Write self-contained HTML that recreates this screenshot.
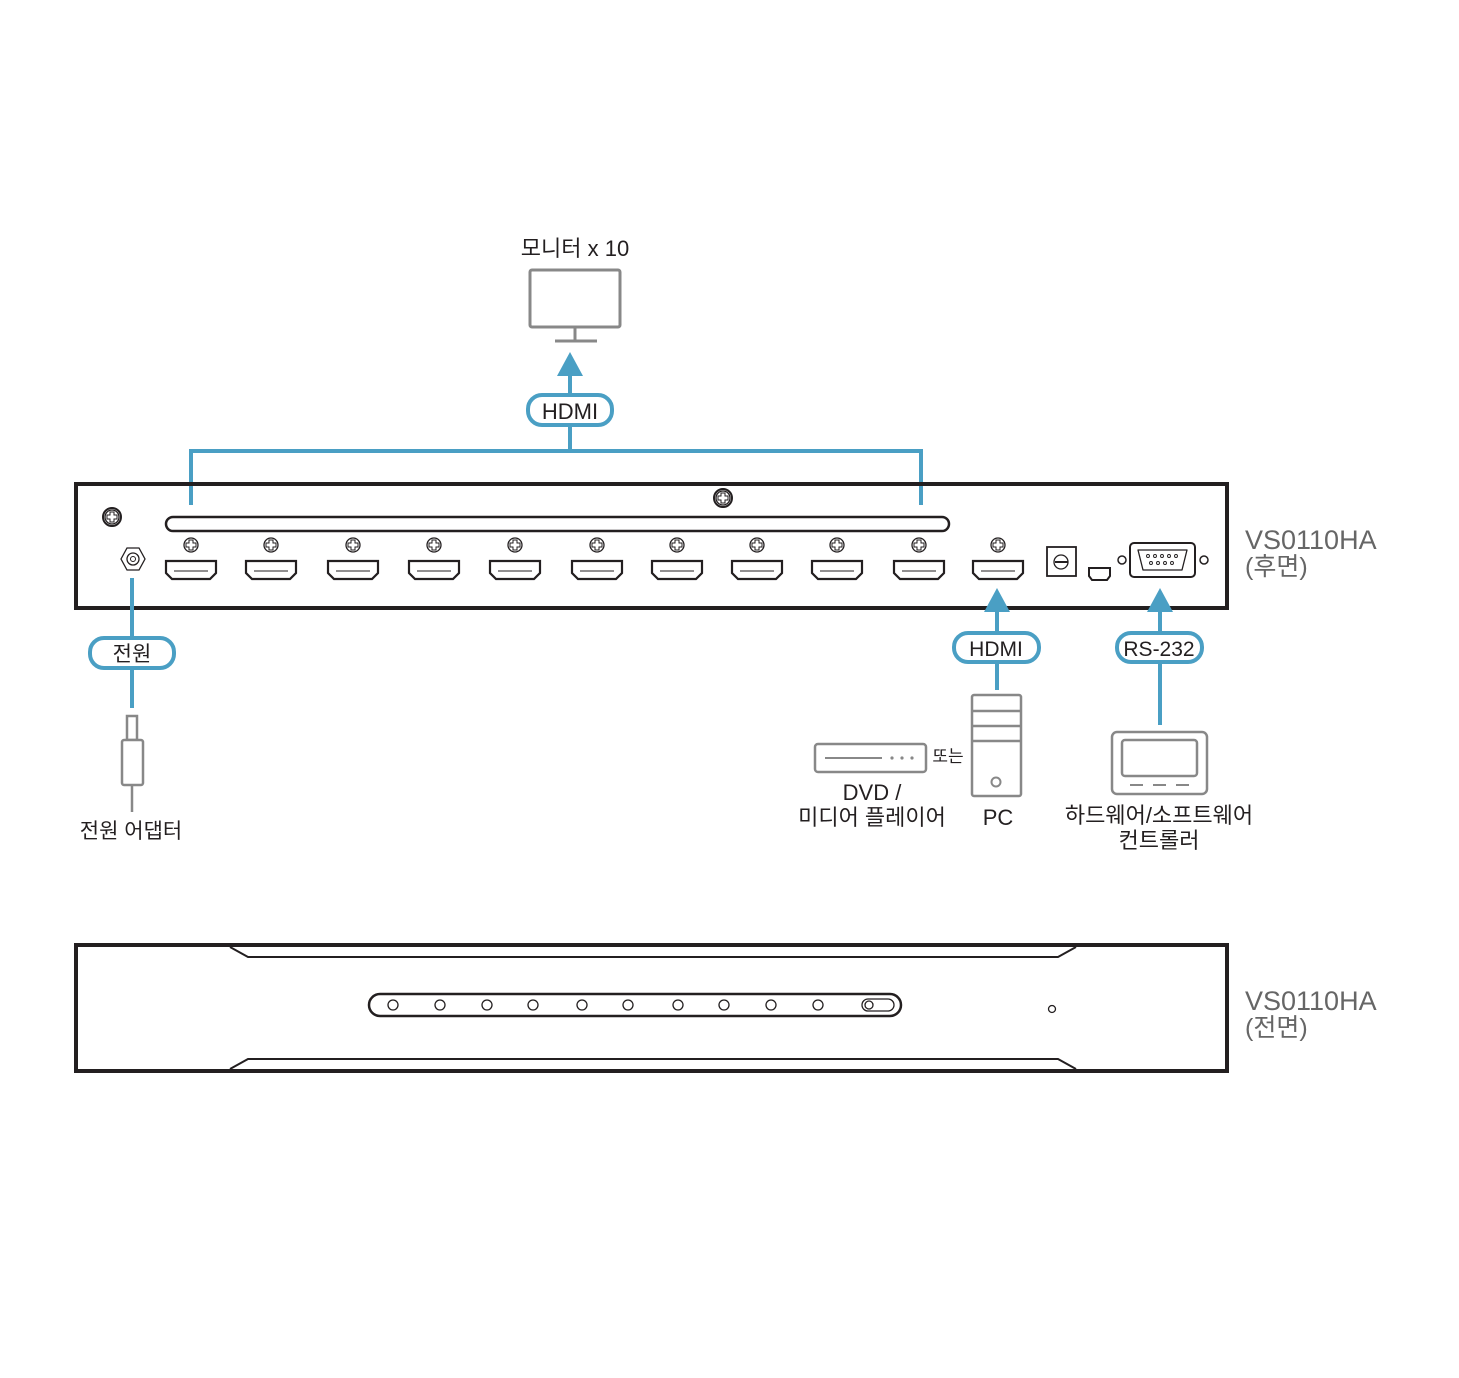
<!DOCTYPE html>
<html><head><meta charset="utf-8"><style>
body{margin:0;background:#fff}
svg{display:block}
text{font-family:"Liberation Sans","Noto Sans CJK KR",sans-serif;fill:#231f20}
</style></head><body>
<svg width="1459" height="1378" viewBox="0 0 1459 1378" xmlns="http://www.w3.org/2000/svg">
<defs>
<g id="port"><path d="M-25,-8 H25 V4 L19,10 H-19 L-25,4 Z" fill="#fff" stroke="#231f20" stroke-width="2.2"/><line x1="-17" y1="2" x2="17" y2="2" stroke="#231f20" stroke-width="1"/></g>
<g id="scr"><circle r="7" fill="#fff" stroke="#231f20" stroke-width="1.3"/><path d="M-2,-5 H2 V-2 H5 V2 H2 V5 H-2 V2 H-5 V-2 H-2 Z" fill="none" stroke="#231f20" stroke-width="1"/></g>
</defs>
<!-- monitor -->
<text x="575" y="256" font-size="22" text-anchor="middle">모니터 x 10</text>
<rect x="530" y="270" width="90" height="57" rx="2" fill="#fff" stroke="#888" stroke-width="3"/>
<line x1="575" y1="327" x2="575" y2="341" stroke="#888" stroke-width="3"/>
<line x1="555" y1="341" x2="597" y2="341" stroke="#888" stroke-width="3"/>
<!-- top connector -->
<g stroke="#4a9fc4" stroke-width="4" fill="none">
<polyline points="191,505 191,451 921,451 921,505"/>
<line x1="570" y1="451" x2="570" y2="372"/>
</g>
<polygon points="570,352 557,376 583,376" fill="#4a9fc4"/>
<rect x="528" y="395" width="84" height="30" rx="14" fill="#fff" stroke="#4a9fc4" stroke-width="4"/>
<text x="570" y="419" font-size="22" text-anchor="middle">HDMI</text>
<!-- rear panel -->
<rect x="76" y="484" width="1151" height="124" fill="none" stroke="#231f20" stroke-width="4"/>
<g stroke="#4a9fc4" stroke-width="4"><line x1="191" y1="486" x2="191" y2="505"/><line x1="921" y1="486" x2="921" y2="505"/></g>
<rect x="166" y="517" width="783" height="14" rx="7" fill="#fff" stroke="#231f20" stroke-width="2.5"/>
<circle cx="723" cy="498" r="9" fill="#fff" stroke="#231f20" stroke-width="2"/><use href="#scr" x="723" y="498"/>
<circle cx="112" cy="517" r="9" fill="#fff" stroke="#231f20" stroke-width="2"/><use href="#scr" x="112" y="517"/>
<polygon points="121,559 127,548 139,548 145,559 139,570 127,570" fill="#fff" stroke="#231f20" stroke-width="1.3"/>
<circle cx="133" cy="559" r="6" fill="none" stroke="#231f20" stroke-width="1.3"/><circle cx="133" cy="559" r="2.5" fill="none" stroke="#231f20" stroke-width="1"/>
<g>
<use href="#port" x="191" y="569"/><use href="#scr" x="191" y="545"/>
<use href="#port" x="271" y="569"/><use href="#scr" x="271" y="545"/>
<use href="#port" x="353" y="569"/><use href="#scr" x="353" y="545"/>
<use href="#port" x="434" y="569"/><use href="#scr" x="434" y="545"/>
<use href="#port" x="515" y="569"/><use href="#scr" x="515" y="545"/>
<use href="#port" x="597" y="569"/><use href="#scr" x="597" y="545"/>
<use href="#port" x="677" y="569"/><use href="#scr" x="677" y="545"/>
<use href="#port" x="757" y="569"/><use href="#scr" x="757" y="545"/>
<use href="#port" x="837" y="569"/><use href="#scr" x="837" y="545"/>
<use href="#port" x="919" y="569"/><use href="#scr" x="919" y="545"/>
<use href="#port" x="998" y="569"/><use href="#scr" x="998" y="545"/>
</g>
<rect x="1047" y="547" width="29" height="29" fill="#fff" stroke="#231f20" stroke-width="1.8"/>
<circle cx="1061" cy="562" r="7" fill="none" stroke="#231f20" stroke-width="1.3"/>
<line x1="1055" y1="562" x2="1068" y2="562" stroke="#231f20" stroke-width="2"/>
<path d="M1089,568 H1110 V576 L1107,580 H1092 L1089,576 Z" fill="#fff" stroke="#231f20" stroke-width="2"/>
<circle cx="1122" cy="560" r="4" fill="#fff" stroke="#231f20" stroke-width="1.5"/>
<circle cx="1204" cy="560" r="4" fill="#fff" stroke="#231f20" stroke-width="1.5"/>
<rect x="1130" y="543" width="65" height="34" rx="4" fill="#fff" stroke="#231f20" stroke-width="2"/>
<path d="M1138,550 H1187 L1182,570 H1143 Z" fill="none" stroke="#231f20" stroke-width="1.3" stroke-linejoin="round"/>
<g fill="none" stroke="#231f20" stroke-width="0.9">
<circle cx="1148" cy="556" r="1.5"/><circle cx="1155" cy="556" r="1.5"/><circle cx="1162" cy="556" r="1.5"/><circle cx="1169" cy="556" r="1.5"/><circle cx="1176" cy="556" r="1.5"/>
<circle cx="1151" cy="563" r="1.5"/><circle cx="1158" cy="563" r="1.5"/><circle cx="1165" cy="563" r="1.5"/><circle cx="1172" cy="563" r="1.5"/>
</g>
<text x="1245" y="549" font-size="27" fill="#666" style="fill:#666">VS0110HA</text>
<text x="1245" y="575" font-size="25" style="fill:#666">(후면)</text>
<!-- power -->
<line x1="132" y1="578" x2="132" y2="708" stroke="#4a9fc4" stroke-width="4"/>
<rect x="90" y="638" width="84" height="30" rx="14" fill="#fff" stroke="#4a9fc4" stroke-width="4"/>
<text x="132" y="661" font-size="21" text-anchor="middle">전원</text>
<rect x="127" y="716" width="10" height="24" fill="#fff" stroke="#888" stroke-width="2.5"/>
<rect x="122" y="740" width="21" height="45" rx="2" fill="#fff" stroke="#888" stroke-width="2.5"/>
<line x1="132" y1="785" x2="132" y2="812" stroke="#888" stroke-width="2.5"/>
<text x="131" y="838" font-size="21" text-anchor="middle">전원 어댑터</text>
<!-- PC -->
<line x1="997" y1="610" x2="997" y2="690" stroke="#4a9fc4" stroke-width="4"/>
<polygon points="997,588 984,612 1010,612" fill="#4a9fc4"/>
<rect x="954" y="633" width="85" height="29" rx="14" fill="#fff" stroke="#4a9fc4" stroke-width="4"/>
<text x="996" y="656" font-size="21" text-anchor="middle">HDMI</text>
<rect x="972" y="695" width="49" height="101" rx="2" fill="#fff" stroke="#888" stroke-width="2.5"/>
<g stroke="#888" stroke-width="2.5"><line x1="972" y1="711" x2="1021" y2="711"/><line x1="972" y1="726" x2="1021" y2="726"/><line x1="972" y1="741" x2="1021" y2="741"/></g>
<circle cx="996" cy="782" r="4.5" fill="none" stroke="#888" stroke-width="2"/>
<text x="998" y="825" font-size="22" text-anchor="middle">PC</text>
<rect x="815" y="744" width="111" height="28" rx="3" fill="#fff" stroke="#888" stroke-width="2.5"/>
<line x1="825" y1="758" x2="882" y2="758" stroke="#888" stroke-width="2"/>
<g fill="#888"><circle cx="892" cy="758" r="1.6"/><circle cx="902" cy="758" r="1.6"/><circle cx="912" cy="758" r="1.6"/></g>
<text x="948" y="762" font-size="17" text-anchor="middle">또는</text>
<text x="872" y="800" font-size="22" text-anchor="middle">DVD /</text>
<text x="872" y="825" font-size="22" text-anchor="middle">미디어 플레이어</text>
<!-- RS232 -->
<line x1="1160" y1="610" x2="1160" y2="725" stroke="#4a9fc4" stroke-width="4"/>
<polygon points="1160,588 1147,612 1173,612" fill="#4a9fc4"/>
<rect x="1117" y="633" width="85" height="29" rx="14" fill="#fff" stroke="#4a9fc4" stroke-width="4"/>
<text x="1159" y="656" font-size="21" text-anchor="middle">RS-232</text>
<rect x="1112" y="732" width="95" height="62" rx="5" fill="#fff" stroke="#888" stroke-width="2.5"/>
<rect x="1122" y="740" width="75" height="36" rx="3" fill="none" stroke="#888" stroke-width="2.5"/>
<g stroke="#888" stroke-width="2"><line x1="1130" y1="785" x2="1143" y2="785"/><line x1="1153" y1="785" x2="1166" y2="785"/><line x1="1176" y1="785" x2="1189" y2="785"/></g>
<text x="1159" y="823" font-size="22" text-anchor="middle">하드웨어/소프트웨어</text>
<text x="1159" y="848" font-size="22" text-anchor="middle">컨트롤러</text>
<!-- front panel -->
<rect x="76" y="945" width="1151" height="126" fill="none" stroke="#231f20" stroke-width="4"/>
<polyline points="230,947 248,957 1058,957 1076,947" fill="none" stroke="#231f20" stroke-width="2"/>
<polyline points="230,1069 248,1059 1058,1059 1076,1069" fill="none" stroke="#231f20" stroke-width="2"/>
<rect x="369" y="994" width="532" height="22" rx="11" fill="#fff" stroke="#231f20" stroke-width="2.5"/>
<g fill="none" stroke="#231f20" stroke-width="1.3">
<circle cx="393" cy="1005" r="5"/><circle cx="440" cy="1005" r="5"/><circle cx="487" cy="1005" r="5"/><circle cx="533" cy="1005" r="5"/><circle cx="582" cy="1005" r="5"/><circle cx="628" cy="1005" r="5"/><circle cx="678" cy="1005" r="5"/><circle cx="724" cy="1005" r="5"/><circle cx="771" cy="1005" r="5"/><circle cx="818" cy="1005" r="5"/>
<rect x="862" y="999" width="32" height="12" rx="6"/><circle cx="869" cy="1005" r="4"/>
<circle cx="1052" cy="1009" r="3.5"/>
</g>
<text x="1245" y="1010" font-size="27" style="fill:#666">VS0110HA</text>
<text x="1245" y="1036" font-size="25" style="fill:#666">(전면)</text>
</svg>
</body></html>
